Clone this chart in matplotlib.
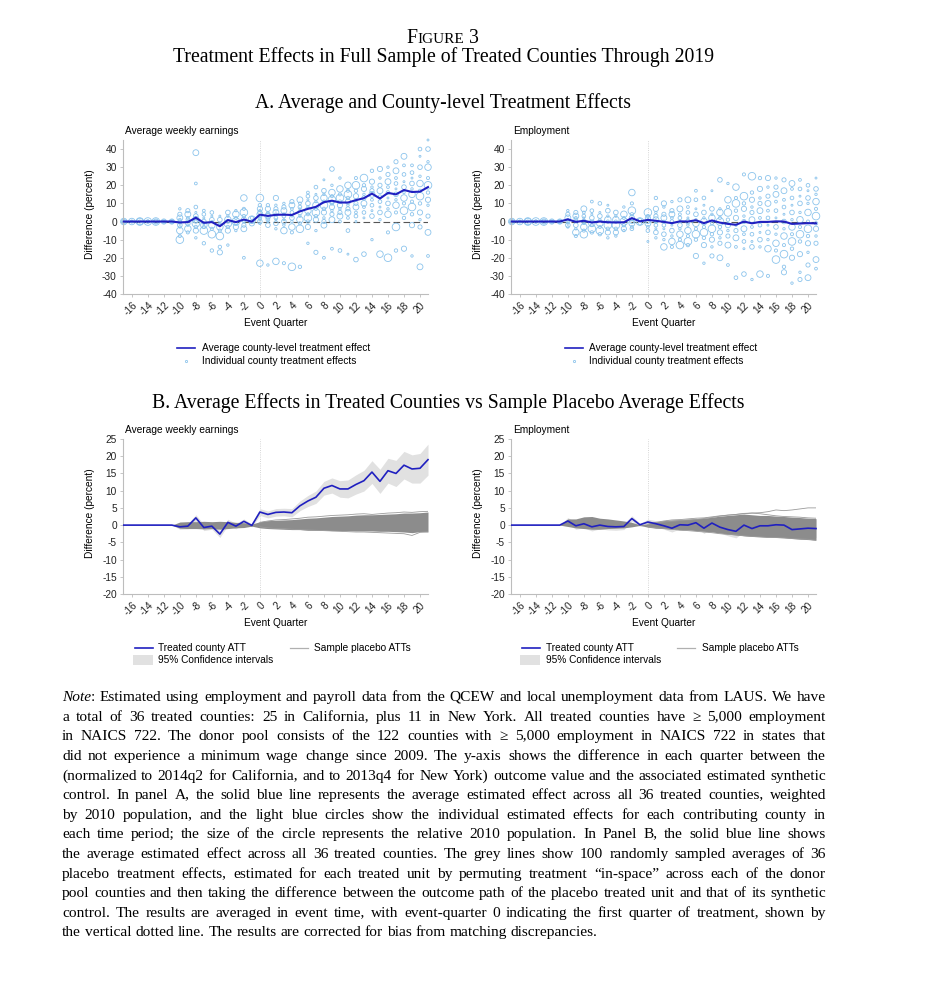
import math
import matplotlib
matplotlib.use('Agg')
import matplotlib.pyplot as plt
from matplotlib.lines import Line2D
from matplotlib.patches import Rectangle

plt.rcParams['font.family'] = ['Liberation Sans', 'DejaVu Sans']
plt.rcParams['axes.unicode_minus'] = False

W, H = 938, 1000
SERIF = ['Liberation Serif', 'DejaVu Serif']
BLUE = '#2020c0'
LIGHT = '#8cc4ec'
AXGREY = '#bdbdbd'

# ---------------- data ----------------
quarters = list(range(-17, 22))
placebo_q = list(range(-11, 22))
post_q = list(range(0, 22))
xtick_vals = list(range(-16, 21, 2))
ytick_a = list(range(-40, 41, 10))
ytick_b = list(range(-20, 26, 5))

# average treatment effect (percent), quarters -17..21
earn_att = [0, 0, 0, 0, 0, 0, 0,
            -0.5, -0.3, 2.1, -0.7, -0.3, -2.6, 0.8, -0.3, 1.1, -0.1,
            3.8, 3.1, 3.7, 3.8, 3.6, 5.6, 7.0, 8.1, 10.7, 11.5, 10.5,
            10.5, 11.8, 12.9, 15.4, 12.7, 15.8, 15.0, 17.4, 16.3, 16.5, 19.0]
emp_att = [0, 0, 0, 0, 0, 0, 0,
           1.2, -0.2, 0.4, -0.5, 0.0, -0.4, -0.5, -0.4, 1.9, 0.1,
           0.9, 0.4, -0.2, -0.9, 0.1, 0.0, 0.7, -0.9, 0.6, -0.6, -1.3,
           -1.8, 0.0, -1.0, -0.2, -0.2, 0.1, 0.0, -1.3, -1.1, -0.9, -1.0]

# 95% CI half widths, quarters -11..21
earn_ci = [0, 0.7, 0.8, 0.9, 0.9, 0.9, 1.0, 0.9, 0.8, 0.7, 0.4,
           1.0, 1.0, 1.1, 1.1, 1.2, 1.4, 1.6, 1.8, 2.0, 2.2, 2.4,
           2.6, 2.8, 3.0, 3.3, 3.5, 3.6, 3.8, 4.0, 4.1, 4.3, 4.5]
emp_ci = [0, 1.0, 1.0, 1.2, 1.2, 1.1, 1.0, 1.0, 0.9, 0.8, 0.4,
          0.8, 0.9, 1.0, 1.1, 1.2, 1.3, 1.4, 1.5, 1.6, 1.7, 1.8,
          1.9, 2.0, 2.1, 2.2, 2.3, 2.4, 2.4, 2.5, 2.5, 2.6, 2.6]

# envelope of the 100 placebo averages, quarters -11..21
earn_plac_hi = [0, 0.9, 1.0, 1.0, 1.1, 1.0, 1.1, 1.0, 0.8, 0.7, 0.3,
                1.0, 1.3, 1.4, 1.5, 1.6, 1.8, 2.0, 2.1, 2.3, 2.5, 2.6,
                2.7, 2.9, 3.0, 3.0, 3.1, 3.2, 3.3, 3.5, 3.5, 3.6, 3.8]
earn_plac_lo = [0, -0.9, -1.0, -1.0, -1.1, -1.0, -1.2, -1.0, -0.8, -0.7, -0.3,
                -0.8, -1.0, -1.1, -1.2, -1.3, -1.3, -1.5, -1.5, -1.5, -1.6, -1.6,
                -1.6, -1.7, -1.7, -1.7, -1.8, -1.8, -1.9, -2.0, -2.2, -1.9, -2.0]
emp_plac_hi = [0, 1.8, 1.8, 2.4, 2.5, 2.0, 1.8, 1.5, 1.2, 0.8, 0.1,
               0.4, 0.9, 1.3, 1.5, 1.6, 1.7, 1.9, 2.0, 2.3, 2.6, 2.8,
               3.0, 3.2, 3.0, 2.8, 2.8, 2.6, 2.5, 2.3, 2.2, 2.0, 1.9]
emp_plac_lo = [0, -0.4, -0.8, -1.0, -1.2, -1.2, -1.0, -0.9, -0.8, -0.5, -0.1,
               -0.6, -0.9, -1.0, -1.2, -1.3, -1.4, -1.6, -1.8, -2.0, -2.3, -2.6,
               -2.9, -3.1, -3.3, -3.4, -3.5, -3.6, -3.7, -3.9, -4.1, -4.2, -4.4]

# a few individual placebo paths at the edges, quarters 0..21
earn_plac_lines = [
    [0.8, 1.2, 1.5, 1.6, 1.8, 2.0, 2.3, 2.4, 2.6, 2.8, 2.9, 3.0, 3.2, 3.3, 3.1, 3.3, 3.5, 3.6, 3.8, 3.7, 3.9, 4.0],
    [-0.5, -0.8, -1.0, -1.0, -1.2, -1.3, -1.4, -1.5, -1.6, -1.7, -1.8, -1.9, -2.0, -2.0, -2.1, -2.2, -2.3, -2.4, -2.5, -3.0, -2.1, -1.9],
]
emp_plac_lines = [
    [0.3, 0.8, 1.2, 1.5, 1.6, 1.8, 2.0, 2.1, 2.4, 2.7, 2.9, 3.1, 3.4, 3.5, 3.6, 3.9, 4.4, 4.2, 4.4, 4.7, 5.0, 5.0],
    [0.2, 0.6, 0.9, 1.1, 1.3, 1.5, 1.6, 1.9, 2.2, 2.6, 2.9, 3.1, 3.3, 3.5, 3.3, 3.0, 2.7, 2.5, 2.4, 2.3, 2.1, 2.0],
    [-0.5, -0.8, -1.0, -1.2, -1.5, -1.6, -1.8, -2.0, -2.2, -2.5, -2.7, -2.8, -3.1, -3.3, -3.4, -3.6, -3.6, -3.7, -3.9, -4.0, -4.1, -4.4],
]

# relative 2010 population (marker area)
county_pop = [30, 6, 14, 3, 9, 18, 4, 7, 2, 11, 3, 22, 5]

# individual county effects, quarters -17..21
earn_county = [
    [0, 0, 0], [0, 0, 0], [0, 0, 0], [0, 0, 0], [0, 0, 0], [0, 0, 0], [0, 0, 0],
    [7, 4, 2, 1, 0, -1, -2, -3, -5, -8, -10],
    [6, 4, 2, 1, 0, -1, -2, -4, -6],
    [38, 21, 8, 5, 3, 2, 1, 0, -1, -3, -5, -9],
    [6, 4, 2, 0, -1, -2, -3, -5, -12],
    [5, 3, 1, 0, -2, -4, -7, -16],
    [3, 1, -1, -3, -5, -8, -14, -17],
    [5, 3, 1, 0, -1, -3, -5, -13],
    [6, 4, 2, 0, -1, -3, -5],
    [13, 7, 5, 3, 1, 0, -2, -4, -20],
    [2, 1, 0, -1],
    [13, 9, 7, 6, 5, 4, 3, 2, 1, 0, -1, -23],
    [9, 7, 5, 4, 3, 2, 1, 0, -2, -24],
    [13, 9, 7, 5, 4, 2, 1, -1, -4, -22],
    [10, 8, 6, 4, 3, 1, 0, -2, -5, -23],
    [11, 9, 7, 5, 3, 2, 0, -3, -6, -25],
    [12, 10, 8, 7, 5, 3, 1, -1, -4, -25],
    [16, 14, 12, 10, 8, 6, 4, 2, 0, -3, -12],
    [19, 15, 13, 11, 9, 7, 5, 3, 1, -5, -17],
    [23, 17, 15, 13, 11, 9, 7, 5, 2, 0, -2, -20],
    [29, 20, 16, 14, 12, 10, 8, 6, 4, 1, -15],
    [24, 18, 15, 13, 11, 9, 7, 5, 3, 0, -16],
    [20, 17, 15, 13, 11, 9, 7, 5, 2, -5, -18],
    [24, 20, 17, 14, 12, 10, 8, 5, 3, 0, -21],
    [24, 20, 18, 15, 13, 10, 8, 5, 2, -18],
    [28, 22, 19, 17, 15, 12, 9, 6, 3, -10],
    [29, 24, 20, 17, 14, 11, 8, 5, 1, -18],
    [30, 26, 22, 19, 16, 13, 10, 7, 4, -6, -20],
    [33, 28, 24, 21, 18, 15, 12, 9, 5, -3, -16],
    [36, 31, 26, 22, 19, 16, 13, 10, 6, 2, -15],
    [31, 27, 24, 21, 18, 15, 11, 8, 4, -2, -19],
    [40, 36, 30, 25, 21, 17, 14, 10, 5, 1, -3, -25],
    [45, 40, 33, 30, 24, 20, 16, 12, 9, 3, -6, -19],
]
emp_county = [
    [0, 0, 0], [0, 0, 0], [0, 0, 0], [0, 0, 0], [0, 0, 0], [0, 0, 0], [0, 0, 0],
    [6, 4, 2, 1, 0, -1, -2, -3],
    [5, 3, 2, 1, 0, -2, -4, -6, -8],
    [7, 5, 3, 2, 0, -1, -3, -5, -7],
    [11, 6, 4, 2, 0, -1, -2, -4, -6],
    [10, 5, 3, 1, -1, -3, -5, -7],
    [9, 6, 3, 1, 0, -2, -4, -6, -9],
    [5, 3, 1, 0, -2, -4, -6, -8],
    [8, 4, 2, 0, -2, -4, -5],
    [16, 10, 6, 4, 2, 1, 0, -1, -3, -4],
    [1, 0, -1],
    [5, 3, 2, 1, 0, -1, -3, -5, -11],
    [13, 7, 5, 3, 1, 0, -2, -4, -6, -9],
    [10, 8, 4, 2, 0, -2, -4, -7, -10, -14],
    [11, 6, 4, 2, 0, -2, -5, -8, -11, -14],
    [12, 7, 4, 2, 0, -2, -4, -7, -10, -13],
    [12, 8, 5, 2, 0, -2, -5, -8, -11, -13],
    [17, 12, 7, 4, 1, -1, -4, -7, -10, -19],
    [13, 9, 5, 2, 0, -3, -6, -9, -13, -23],
    [17, 7, 4, 2, -1, -4, -7, -10, -14, -19],
    [23, 7, 5, 2, 0, -3, -6, -9, -12, -20],
    [21, 12, 8, 5, 1, -2, -5, -8, -13, -24],
    [19, 13, 10, 6, 2, -2, -5, -9, -14, -31],
    [26, 14, 10, 7, 3, 0, -4, -7, -11, -15, -29],
    [25, 16, 12, 8, 5, 1, -3, -7, -11, -14, -32],
    [24, 18, 13, 10, 6, 2, -2, -6, -10, -14, -29],
    [24, 19, 14, 10, 6, 2, -2, -6, -10, -15, -30],
    [24, 19, 15, 11, 6, 2, -3, -7, -12, -16, -21],
    [23, 17, 12, 8, 4, 0, -4, -8, -13, -18, -25, -28],
    [21, 18, 13, 9, 5, 1, -3, -7, -11, -15, -20, -34],
    [23, 18, 14, 10, 5, 1, -3, -7, -11, -18, -28, -32],
    [20, 17, 13, 10, 5, 0, -4, -8, -12, -17, -24, -31],
    [24, 18, 15, 11, 7, 3, -1, -4, -8, -12, -21, -26],
]

note_lines = [
    "Note: Estimated using employment and payroll data from the QCEW and local unemployment data from LAUS.  We have",
    "a total of 36 treated counties:  25 in California, plus 11 in New York.  All treated counties have \u2265 5,000 employment",
    "in NAICS 722.  The donor pool consists of the 122 counties with \u2265 5,000 employment in NAICS 722 in states that",
    "did not experience a minimum wage change since 2009.  The y-axis shows the difference in each quarter between the",
    "(normalized to 2014q2 for California, and to 2013q4 for New York) outcome value and the associated estimated synthetic",
    "control.  In panel A, the solid blue line represents the average estimated effect across all 36 treated counties, weighted",
    "by 2010 population, and the light blue circles show the individual estimated effects for each contributing county in",
    "each time period; the size of the circle represents the relative 2010 population.  In Panel B, the solid blue line shows",
    "the average estimated effect across all 36 treated counties.  The grey lines show 100 randomly sampled averages of 36",
    "placebo treatment effects, estimated for each treated unit by permuting treatment \u201cin-space\u201d across each of the donor",
    "pool counties and then taking the difference between the outcome path of the placebo treated unit and that of its synthetic",
    "control.  The results are averaged in event time, with event-quarter 0 indicating the first quarter of treatment, shown by",
    "the vertical dotted line.  The results are corrected for bias from matching discrepancies.",
]


def fx(x):
    return x / W


def fy(y):
    return 1 - y / H


fig = plt.figure(figsize=(W / 100, H / 100), dpi=100)
fig.patch.set_facecolor('white')


def make_axes(x0, x1, ytop, ybot):
    return fig.add_axes([fx(x0), fy(ybot), (x1 - x0) / W, (ybot - ytop) / H])


def style_axes(ax, ylim, yticks):
    ax.set_xlim(-17.1, 21.0)
    ax.set_ylim(*ylim)
    for s in ['top', 'right']:
        ax.spines[s].set_visible(False)
    for s in ['left', 'bottom']:
        ax.spines[s].set_color(AXGREY)
        ax.spines[s].set_linewidth(0.8)
    ax.set_xticks(xtick_vals)
    ax.set_xticklabels([str(v) for v in xtick_vals], rotation=45, ha='right',
                       rotation_mode='anchor')
    ax.set_yticks(yticks)
    ax.set_yticklabels([str(v) for v in yticks])
    ax.tick_params(axis='both', labelsize=7.3, colors='#222222', length=2.5,
                   width=0.6, pad=2)
    ax.tick_params(axis='both', color=AXGREY)
    ax.set_facecolor('none')


def panel_a(ax, att, county):
    ax.axvline(0, color='#c8c8c8', lw=0.6, ls=':', zorder=1)
    ax.axhline(0, color='#555555', lw=0.8, dashes=(6, 3), zorder=1)
    for q, vals in zip(quarters, county):
        sizes = [county_pop[(j + q) % len(county_pop)] for j in range(len(vals))]
        ax.scatter([q] * len(vals), vals, s=sizes, facecolors='none',
                   edgecolors=LIGHT, linewidths=0.6, zorder=2, clip_on=False)
    ax.plot(quarters, att, color=BLUE, lw=1.5, zorder=3, clip_on=False)
    style_axes(ax, (-40, 45), ytick_a)


def panel_b(ax, att, ci, hi, lo, lines):
    att_sub = att[quarters.index(-11):]
    ax.axvline(0, color='#c8c8c8', lw=0.6, ls=':', zorder=1)
    ax.fill_between(placebo_q, [a - c for a, c in zip(att_sub, ci)],
                    [a + c for a, c in zip(att_sub, ci)],
                    color='#e1e1e1', lw=0, zorder=1)
    ax.fill_between(placebo_q, lo, hi, color='#8c8c8c', lw=0, zorder=2)
    for ln in lines:
        ax.plot(post_q, ln, color='#9a9a9a', lw=0.6, zorder=2)
    ax.plot(quarters, att, color=BLUE, lw=1.2, zorder=3, clip_on=False)
    style_axes(ax, (-20, 25), ytick_b)


def axis_texts(x0, x1, ytop, ybot, title, xlabel_y):
    fig.text(fx(x0 + 2), fy(ytop - 9), title, fontsize=7.3, ha='left', va='center')
    fig.text(fx(x0 - 33), fy((ytop + ybot) / 2 - 3), 'Difference (percent)',
             fontsize=7.3, rotation=90, ha='center', va='center')
    fig.text(fx((x0 + x1) / 2), fy(xlabel_y), 'Event Quarter', fontsize=7.3,
             ha='center', va='center')


def leg_line(x0, y, color, lw, label, text_x):
    fig.add_artist(Line2D([fx(x0), fx(x0 + 18)], [fy(y), fy(y)], color=color,
                          lw=lw, transform=fig.transFigure))
    fig.text(fx(text_x), fy(y), label, fontsize=7.3, ha='left', va='center')


def leg_dot(x0, y, label, text_x):
    fig.add_artist(Line2D([fx(x0 + 9)], [fy(y)], marker='o', ms=1.6,
                          mfc='none', mec=LIGHT, mew=0.6, ls='none',
                          transform=fig.transFigure))
    fig.text(fx(text_x), fy(y), label, fontsize=7.3, ha='left', va='center')


def leg_patch(x0, y, label, text_x):
    fig.add_artist(Rectangle((fx(x0 - 2), fy(y + 5)), 20 / W, 10 / H,
                             color='#e1e1e1', lw=0, transform=fig.transFigure))
    fig.text(fx(text_x), fy(y), label, fontsize=7.3, ha='left', va='center')


# ---------------- panel A ----------------
ax1 = make_axes(123, 428, 140, 294)
panel_a(ax1, earn_att, earn_county)
axis_texts(123, 428, 140, 294, 'Average weekly earnings', 323)
leg_line(177, 348, BLUE, 1.2, 'Average county-level treatment effect', 202)
leg_dot(177, 361, 'Individual county treatment effects', 202)

ax2 = make_axes(511, 816, 140, 294)
panel_a(ax2, emp_att, emp_county)
axis_texts(511, 816, 140, 294, 'Employment', 323)
leg_line(565, 348, BLUE, 1.2, 'Average county-level treatment effect', 589)
leg_dot(565, 361, 'Individual county treatment effects', 589)

# ---------------- panel B ----------------
ax3 = make_axes(123, 428, 439, 594)
panel_b(ax3, earn_att, earn_ci, earn_plac_hi, earn_plac_lo, earn_plac_lines)
axis_texts(123, 428, 439, 594, 'Average weekly earnings', 623)
leg_line(135, 648, BLUE, 1.2, 'Treated county ATT', 158)
leg_line(290, 648, '#b0b0b0', 0.9, 'Sample placebo ATTs', 314)
leg_patch(135, 660, '95% Confidence intervals', 158)

ax4 = make_axes(511, 816, 439, 594)
panel_b(ax4, emp_att, emp_ci, emp_plac_hi, emp_plac_lo, emp_plac_lines)
axis_texts(511, 816, 439, 594, 'Employment', 623)
leg_line(522, 648, BLUE, 1.2, 'Treated county ATT', 546)
leg_line(677, 648, '#b0b0b0', 0.9, 'Sample placebo ATTs', 702)
leg_patch(522, 660, '95% Confidence intervals', 546)

# ---------------- titles ----------------
renderer = fig.canvas.get_renderer()
TITLE_FS = 14.2


def pixel_baseline(t, row):
    # place a baseline-aligned text so that Agg's rounding puts its
    # baseline exactly on pixel row `row` (counted from the top)
    _, h, d = renderer.get_text_width_height_descent(
        t.get_text(), t.get_fontproperties(), ismath=False)
    n = row - math.floor(h - d) + math.floor(h)
    t.set_y(fy(n - d + 0.01))


cap_parts = [('F', TITLE_FS), ('IGURE', 11.0), (' 3', TITLE_FS)]
cap_texts = [fig.text(0, fy(43), s, fontsize=fs, family=SERIF, va='baseline')
             for s, fs in cap_parts]
cap_w = [t.get_window_extent(renderer).width for t in cap_texts]
cx = 443 - sum(cap_w) / 2
for t, w in zip(cap_texts, cap_w):
    t.set_x(fx(cx))
    pixel_baseline(t, 43)
    cx += w

fig.text(fx(443), fy(62.27), 'Treatment Effects in Full Sample of Treated Counties Through 2019',
         fontsize=TITLE_FS, family=SERIF, ha='center', va='baseline')
fig.text(fx(443), fy(108.27), 'A. Average and County-level Treatment Effects',
         fontsize=TITLE_FS, family=SERIF, ha='center', va='baseline')
fig.text(fx(448), fy(408.27), 'B. Average Effects in Treated Counties vs Sample Placebo Average Effects',
         fontsize=TITLE_FS, family=SERIF, ha='center', va='baseline')

# ---------------- justified note, one text per word ----------------
NOTE_X0, NOTE_X1 = 62, 826
NOTE_FS = 11.1


def text_w(s, style):
    t = fig.text(0, 0, s, fontsize=NOTE_FS, family=SERIF, style=style)
    w = t.get_window_extent(renderer).width
    t.remove()
    return w


for i, line in enumerate(note_lines):
    row = round(701.3 + 19.6 * i)
    words = line.split()
    word_pieces = []
    for k, w in enumerate(words):
        if i == 0 and k == 0:
            word_pieces.append([('Note', 'italic'), (w[4:], 'normal')])
        else:
            word_pieces.append([(w, 'normal')])
    widths = [sum(text_w(s, st) for s, st in p) for p in word_pieces]
    if i < len(note_lines) - 1:
        gap = (NOTE_X1 - NOTE_X0 - sum(widths)) / (len(words) - 1)
    else:
        gap = NOTE_FS * 100 / 72 * 0.25
    x = NOTE_X0
    for p, w in zip(word_pieces, widths):
        xx = x
        for s, st in p:
            t = fig.text(fx(xx), fy(row), s, fontsize=NOTE_FS, family=SERIF,
                         style=st, va='baseline')
            pixel_baseline(t, row)
            xx += text_w(s, st)
        x += w + gap

fig.savefig('out.png', dpi=100, facecolor='white')
